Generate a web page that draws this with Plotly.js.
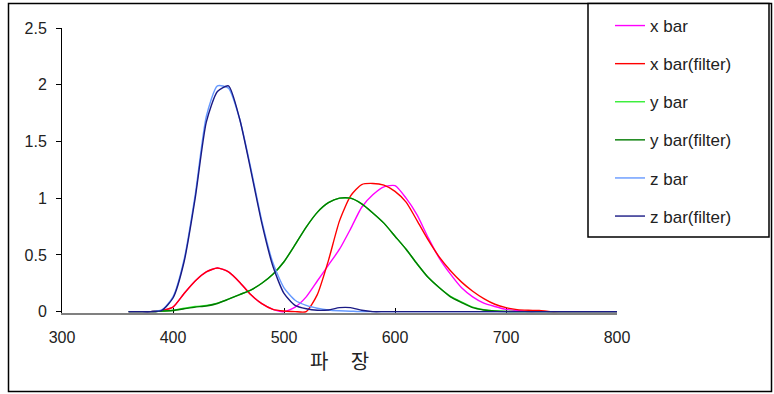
<!DOCTYPE html>
<html>
<head>
<meta charset="utf-8">
<script src="https://cdn.plot.ly/plotly-3.0.1.min.js"></script>
<style>html,body{margin:0;padding:0;background:#fff;}#chart{width:774px;height:394px;}</style>
</head>
<body>
<div id="chart"></div>
<script>
const wavelength = [360,370,380,390,400,410,420,430,440,450,460,470,480,490,500,510,520,530,540,550,560,570,580,590,600,610,620,630,640,650,660,670,680,690,700,710,720,730,740,750,760,770,780,790,800];

const xBar =        [0,0,0,0.01,0.04,0.16,0.27,0.35,0.385,0.35,0.26,0.15,0.07,0.02,0.0,0.04,0.13,0.27,0.41,0.55,0.73,0.92,1.03,1.10,1.11,1.00,0.85,0.65,0.47,0.33,0.21,0.13,0.075,0.045,0.02,0.01,0,0,0,0,0,0,0,0,0];
const xBarFilter =  [0,0,0,0.01,0.04,0.16,0.27,0.35,0.385,0.35,0.26,0.15,0.07,0.02,0.005,0,0,0.15,0.45,0.80,1.02,1.12,1.13,1.115,1.06,0.965,0.80,0.63,0.48,0.36,0.26,0.18,0.115,0.065,0.035,0.018,0.012,0.01,0,0,0,0,0,0,0];
const yBar =        [0,0,0,0.005,0.012,0.03,0.045,0.055,0.075,0.11,0.15,0.19,0.25,0.33,0.44,0.59,0.745,0.875,0.96,1.0,1.0,0.95,0.87,0.78,0.665,0.55,0.42,0.30,0.21,0.135,0.085,0.04,0.017,0.006,0.002,0,0,0,0,0,0,0,0,0,0];
const yBarFilter =  [0,0,0,0.005,0.01,0.025,0.04,0.05,0.072,0.11,0.15,0.19,0.25,0.33,0.44,0.59,0.745,0.875,0.96,1.0,1.0,0.95,0.87,0.78,0.665,0.55,0.42,0.30,0.21,0.13,0.08,0.035,0.015,0.005,0.001,0,0,0,0,0,0,0,0,0,0];
const zBar =        [0,0,0,0.015,0.13,0.46,1.03,1.72,1.99,1.97,1.70,1.27,0.80,0.43,0.21,0.10,0.055,0.03,0.015,0.008,0.004,0,0,0,0,0,0,0,0,0,0,0,0,0,0,0,0,0,0,0,0,0,0,0,0];
const zBarFilter =  [0,0,0,0.012,0.12,0.44,1.0,1.67,1.94,1.99,1.70,1.25,0.78,0.40,0.16,0.055,0.025,0.012,0.015,0.035,0.035,0.012,0,0,0,0,0,0,0,0,0,0,0,0,0,0,0,0,0,0,0,0,0,0,0];

const seriesNames = ['x bar','x bar(filter)','y bar','y bar(filter)','z bar','z bar(filter)'];
const seriesValues = [xBar, xBarFilter, yBar, yBarFilter, zBar, zBarFilter];
const seriesColors = ['#ff00ff','#ff0000','#33ee33','#007a00','#6699ff','#1a1a85'];

const xTicks = [300,400,500,600,700,800];
const yTicks = [0,0.5,1,1.5,2,2.5];
const xTitle = '파\u00a0\u00a0\u00a0\u00a0\u00a0장';

const FONT = 'Liberation Sans, Arial, Noto Sans CJK KR, sans-serif';

const traces = seriesNames.map((n,i)=>({
  type:'scatter', mode:'lines', name:n, x:wavelength, y:seriesValues[i],
  line:{color:seriesColors[i], width:1.4, shape:'spline', smoothing:0.6},
  legendgroup:'g'+i
}));

// plot area px: x 62..617, y 28..313
const W=774,H=394, L=62, R=774-617, T=28, B=394-313;
const pw=W-L-R, ph=H-T-B;
const px2x = p => (p-L)/pw;
const py2y = p => (H-B-p)/ph;

const layout = {
  width:W, height:H,
  margin:{l:L,r:R,t:T,b:B,pad:0, autoexpand:false},
  paper_bgcolor:'#fff', plot_bgcolor:'#fff',
  font:{family:FONT, size:16, color:'#222'},
  showlegend:true,
  legend:{xref:'container', yref:'container', x:610/W, y:1-8/H, xanchor:'left', yanchor:'top',
    font:{family:FONT,size:17,color:'#222'}, bgcolor:'rgba(0,0,0,0)', borderwidth:0,
    tracegroupgap:13, itemwidth:30, maxheight:1},
  xaxis:{range:[300,800], tickvals:xTicks, ticktext:xTicks.map(String),
    showgrid:false, zeroline:false, showline:true, linecolor:'#808080', linewidth:2,
    ticks:'inside', ticklen:5, tickcolor:'#000', tickwidth:1, layer:'below traces',
    ticklabelstandoff:9, tickfont:{size:16,color:'#222'},
    title:{text:xTitle, font:{size:20,color:'#222', family:'Noto Sans CJK KR, sans-serif'}, standoff:10}},
  yaxis:{range:[-0.012,2.5], tickvals:yTicks, ticktext:yTicks.map(String),
    showgrid:false, zeroline:false, showline:true, linecolor:'#000', linewidth:1,
    ticks:'outside', ticklen:5, tickcolor:'#000', tickwidth:1, layer:'below traces',
    ticklabelstandoff:6, tickfont:{size:16,color:'#222'}},
  shapes:[
    {type:'rect', xref:'paper', yref:'paper', x0:px2x(8.5), x1:px2x(771.5), y0:py2y(391.5), y1:py2y(3.5),
     line:{color:'#000', width:1.5}, fillcolor:'rgba(0,0,0,0)', layer:'below'},
    {type:'rect', xref:'paper', yref:'paper', x0:px2x(588), x1:px2x(769), y0:py2y(237), y1:py2y(3.5),
     line:{color:'#000', width:1.5}, fillcolor:'#fff', layer:'below'}
  ]
};

Plotly.newPlot('chart', traces, layout, {displayModeBar:false, staticPlot:true});
</script>
</body>
</html>
